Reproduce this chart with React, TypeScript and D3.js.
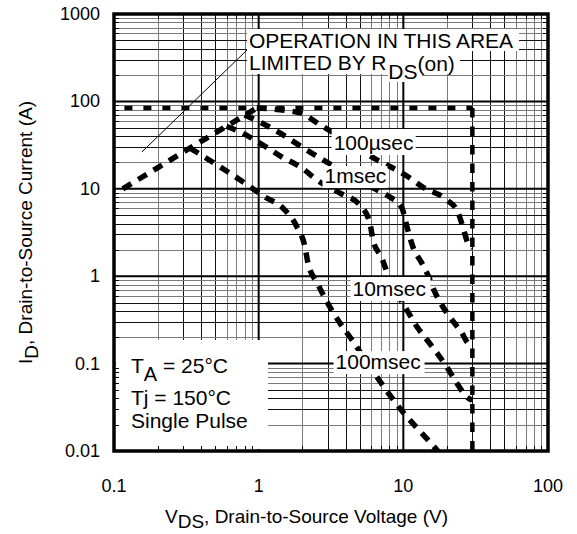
import React, { useRef, useEffect } from 'react';
import * as d3 from 'd3';

// axis ticks
const xTicks = [0.1, 1, 10, 100];
const xTickLabels = ['0.1', '1', '10', '100'];
const yTicks = [0.01, 0.1, 1, 10, 100, 1000];
const yTickLabels = ['0.01', '0.1', '1', '10', '100', '1000'];

// limits
const currentLimit = 84;
const voltageLimit = 30;

// [VDS, ID]
const rdsLine: [number, number][] = [[0.115, 10], [0.2, 17.4], [0.335, 29.3], [0.6, 52], [0.97, 84]];
const pulse100us: [number, number][] = [
  [0.97, 84], [1.93, 74], [2.65, 54], [4.27, 34], [6.57, 21.4], [8.47, 17.3], [11.1, 13.3],
  [13.6, 10.5], [20, 7.45], [23.8, 5.43], [25.8, 3.66], [27.9, 2.4], [30, 2.1],
];
const pulse1ms: [number, number][] = [
  [0.8, 70], [1.05, 56.6], [1.4, 43.5], [1.99, 30.1], [2.65, 22.5], [6.57, 9.7], [8.08, 8.05],
  [9.78, 6.03], [10.6, 3.66], [11.65, 2.16], [13.4, 1.42], [14.8, 1.03], [16.5, 0.66],
  [18.8, 0.444], [21.7, 0.316], [25.4, 0.224], [27.9, 0.172], [30, 0.16],
];
const pulse10ms: [number, number][] = [
  [0.6, 52], [0.77, 43.5], [1.07, 31.7], [1.45, 23.1], [1.99, 17.3], [2.53, 12.6], [3.65, 8.95],
  [5.01, 6.53], [5.87, 4.06], [6.17, 2.6], [7.11, 1.61], [7.83, 1.03], [10.6, 0.41],
  [12.6, 0.255], [14.6, 0.186], [17.1, 0.132], [20, 0.0914], [23.4, 0.06], [27.5, 0.0415], [30, 0.038],
];
const pulse100ms: [number, number][] = [
  [0.335, 29.3], [0.585, 16.4], [0.804, 11.6], [1.105, 8.05], [1.47, 6.03], [1.84, 3.66],
  [2.09, 2.16], [2.19, 1.42], [2.54, 0.836], [2.97, 0.507], [3.53, 0.316], [4.42, 0.186],
  [6.57, 0.0703], [9.93, 0.0279], [14.8, 0.0134], [17.3, 0.01],
];

// curve labels: text start (V) and box top (A)
const curveLabels = [
  { text: '100µsec', v: 3.3, i: 48.3, w: 84, h: 26 },
  { text: '1msec', v: 2.85, i: 18.2, w: 65, h: 22 },
  { text: '10msec', v: 4.45, i: 0.98, w: 80, h: 24 },
  { text: '100msec', v: 3.4, i: 0.139, w: 91, h: 23 },
];

const FONT = '"Liberation Sans", Arial, Helvetica, sans-serif';

const App = () => {
  const svgRef = useRef<SVGSVGElement>(null);

  useEffect(() => {
    const svg = d3.select(svgRef.current);
    svg.selectAll('*').remove();

    const width = 577, height = 534;
    const margin = { top: 14, right: 29, bottom: 83, left: 114 };
    const x0 = margin.left, x1 = width - margin.right;
    const y0 = margin.top, y1 = height - margin.bottom;

    const x = d3.scaleLog().domain([0.1, 100]).range([x0, x1]);
    const y = d3.scaleLog().domain([0.01, 1000]).range([y1, y0]);

    svg.append('rect').attr('width', width).attr('height', height).attr('fill', '#fff');

    // grid
    const grid = svg.append('g');
    const minor = (d: number) => {
      const n = Math.round(d / Math.pow(10, Math.floor(Math.log10(d) + 1e-9)));
      return n <= 5 && n !== 2 ? '#111' : '#7a7a7a';
    };
    const xMinor: number[] = [];
    [0.1, 1, 10].forEach(d => d3.range(2, 10).forEach(n => xMinor.push(d * n)));
    const yMinor: number[] = [];
    [0.01, 0.1, 1, 10, 100].forEach(d => d3.range(2, 10).forEach(n => yMinor.push(d * n)));

    grid.selectAll('.vx').data(xMinor).enter().append('line')
      .attr('x1', d => Math.round(x(d)) + 0.5).attr('x2', d => Math.round(x(d)) + 0.5)
      .attr('y1', y0).attr('y2', y1)
      .attr('stroke', d => minor(d)).attr('stroke-width', 1);
    grid.selectAll('.hy').data(yMinor).enter().append('line')
      .attr('y1', d => Math.round(y(d)) + 0.5).attr('y2', d => Math.round(y(d)) + 0.5)
      .attr('x1', x0).attr('x2', x1)
      .attr('stroke', d => minor(d)).attr('stroke-width', 1);
    grid.selectAll('.vmaj').data([1, 10]).enter().append('line')
      .attr('x1', d => x(d)).attr('x2', d => x(d)).attr('y1', y0).attr('y2', y1)
      .attr('stroke', '#000').attr('stroke-width', 2);
    grid.selectAll('.hmaj').data([0.1, 1, 10, 100]).enter().append('line')
      .attr('y1', d => y(d)).attr('y2', d => y(d)).attr('x1', x0).attr('x2', x1)
      .attr('stroke', '#000').attr('stroke-width', 2);

    // white areas behind the notes
    svg.append('rect').attr('x', x0 + 2).attr('y', 340).attr('width', 152).attr('height', y1 - 340 - 2).attr('fill', '#fff');
    svg.append('rect').attr('x', 247).attr('y', 29).attr('width', 272).attr('height', 22).attr('fill', '#fff');
    svg.append('rect').attr('x', 247).attr('y', 50).attr('width', 213).attr('height', 24).attr('fill', '#fff');
    svg.append('rect').attr('x', 388).attr('y', 64).attr('width', 34).attr('height', 18).attr('fill', '#fff');

    // minor ticks along the frame
    const ticks = svg.append('g').attr('stroke', '#000').attr('stroke-width', 1);
    xMinor.forEach(d => {
      const px = Math.round(x(d)) + 0.5;
      ticks.append('line').attr('x1', px).attr('x2', px).attr('y1', y1).attr('y2', y1 - 5);
      ticks.append('line').attr('x1', px).attr('x2', px).attr('y1', y0).attr('y2', y0 + 5);
    });
    yMinor.forEach(d => {
      const py = Math.round(y(d)) + 0.5;
      ticks.append('line').attr('y1', py).attr('y2', py).attr('x1', x0).attr('x2', x0 + 5);
      ticks.append('line').attr('y1', py).attr('y2', py).attr('x1', x1).attr('x2', x1 - 5);
    });

    // leader line
    svg.append('line')
      .attr('x1', x(0.156)).attr('y1', y(26.4)).attr('x2', x(0.83)).attr('y2', y(387))
      .attr('stroke', '#000').attr('stroke-width', 1);

    // limits
    const line = d3.line<[number, number]>().x(d => x(d[0])).y(d => y(d[1]));
    svg.append('path')
      .datum([[0.118, currentLimit], [voltageLimit, currentLimit]] as [number, number][])
      .attr('d', line).attr('fill', 'none').attr('stroke', '#000')
      .attr('stroke-width', 4.5).attr('stroke-dasharray', '8 11');
    svg.append('path')
      .datum([[voltageLimit, currentLimit], [voltageLimit, 0.01]] as [number, number][])
      .attr('d', line).attr('fill', 'none').attr('stroke', '#000')
      .attr('stroke-width', 4.5).attr('stroke-dasharray', '9.5 9');

    // SOA curves
    const curve = d3.line<[number, number]>().x(d => x(d[0])).y(d => y(d[1])).curve(d3.curveMonotoneX);
    [rdsLine, pulse100us, pulse1ms, pulse10ms, pulse100ms].forEach(pts => {
      svg.append('path').datum(pts).attr('d', curve)
        .attr('fill', 'none').attr('stroke', '#000')
        .attr('stroke-width', 5.5).attr('stroke-dasharray', '10 8');
    });

    // curve labels
    curveLabels.forEach(l => {
      const lx = x(l.v), ly = y(l.i);
      svg.append('rect').attr('x', lx - 2).attr('y', ly).attr('width', l.w).attr('height', l.h).attr('fill', '#fff');
      svg.append('text').attr('x', lx).attr('y', ly + l.h - 5)
        .attr('font-family', FONT).attr('font-size', 21).text(l.text);
    });

    // notes
    const note = svg.append('g').attr('font-family', FONT).attr('font-size', 21).attr('fill', '#000');
    note.append('text').attr('x', 249).attr('y', 48).text('OPERATION IN THIS AREA');
    const lim = note.append('text').attr('x', 249).attr('y', 70);
    lim.append('tspan').text('LIMITED BY R');
    lim.append('tspan').attr('dy', 9).attr('dx', 2).text('DS');
    lim.append('tspan').attr('dy', -8).text('(on)');

    const ta = note.append('text').attr('x', 131).attr('y', 373);
    ta.append('tspan').text('T');
    ta.append('tspan').attr('dy', 8).attr('font-size', 20).text('A');
    ta.append('tspan').attr('dy', -8).text(' = 25°C');
    note.append('text').attr('x', 131).attr('y', 405).text('Tj = 150°C');
    note.append('text').attr('x', 131).attr('y', 428).text('Single Pulse');

    // frame
    svg.append('rect').attr('x', x0).attr('y', y0).attr('width', x1 - x0).attr('height', y1 - y0)
      .attr('fill', 'none').attr('stroke', '#000').attr('stroke-width', 3.5);

    // tick labels
    const lab = svg.append('g').attr('font-family', FONT).attr('font-size', 18).attr('fill', '#000');
    lab.selectAll('.xl').data(xTicks).enter().append('text')
      .attr('x', d => x(d)).attr('y', 492).attr('text-anchor', 'middle')
      .text((d, i) => xTickLabels[i]);
    lab.selectAll('.yl').data(yTicks).enter().append('text')
      .attr('x', 100).attr('y', d => y(d) + 6).attr('text-anchor', 'end')
      .text((d, i) => yTickLabels[i]);

    // axis titles
    const xt = lab.append('text').attr('x', 165).attr('y', 523).attr('font-size', 19);
    xt.append('tspan').text('V');
    xt.append('tspan').attr('dy', 5).text('DS');
    xt.append('tspan').attr('dy', -5).text(',  Drain-to-Source Voltage (V)');

    const yt = lab.append('text')
      .attr('transform', `translate(32,${(y0 + y1) / 2}) rotate(-90)`)
      .attr('text-anchor', 'middle').attr('font-size', 19);
    yt.append('tspan').text('I');
    yt.append('tspan').attr('dy', 6).text('D');
    yt.append('tspan').attr('dy', -6).text(',  Drain-to-Source Current (A)');
  }, []);

  return (
    <div style={{ position: 'absolute', left: 0, top: 0 }}>
      <svg ref={svgRef} width={577} height={534} style={{ display: 'block' }}></svg>
    </div>
  );
};

export default App;
